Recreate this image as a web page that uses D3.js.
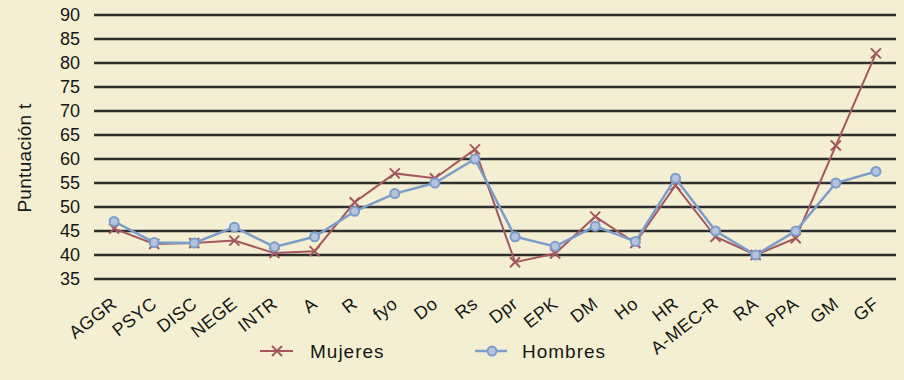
<!DOCTYPE html>
<html lang="es">
<head>
<meta charset="UTF-8">
<title>Puntuación t</title>
<style>
  body { margin: 0; background: #f4efd3; }
  svg { display: block; font-family: "Liberation Sans", Arial, sans-serif; }
</style>
</head>
<body>
<svg id="chart" width="904" height="380"></svg>
<script src="https://cdn.jsdelivr.net/npm/d3@7"></script>
<script>
const categories = ["AGGR", "PSYC", "DISC", "NEGE", "INTR", "A", "R", "fyo", "Do", "Rs",
                    "Dpr", "EPK", "DM", "Ho", "HR", "A-MEC-R", "RA", "PPA", "GM", "GF"];
const mujeres = [45.5, 42.3, 42.5, 43, 40.4, 40.8, 51, 57, 56, 62,
                 38.5, 40.3, 48, 42.5, 54.5, 43.8, 40, 43.5, 62.8, 82];
const hombres = [47, 42.6, 42.5, 45.8, 41.7, 43.8, 49.1, 52.8, 55, 60,
                 43.8, 41.8, 46, 42.8, 56, 45, 40, 45, 55, 57.4];
const yTicks = [35, 40, 45, 50, 55, 60, 65, 70, 75, 80, 85, 90];

const svg = d3.select("#chart");
const plotLeft = 94, plotRight = 896, plotTop = 15, plotBottom = 279;
const ink = "#161616";

const x = d3.scalePoint().domain(categories).range([plotLeft, plotRight]).padding(0.5);
const y = d3.scaleLinear().domain([35, 90]).range([plotBottom, plotTop]);

// grid lines
svg.append("g")
  .selectAll("line")
  .data(yTicks)
  .join("line")
  .attr("x1", plotLeft).attr("x2", plotRight)
  .attr("y1", d => y(d)).attr("y2", d => y(d))
  .attr("stroke", "#2e2e2e")
  .attr("stroke-width", 2.4);

// y tick labels
svg.append("g")
  .selectAll("text")
  .data(yTicks)
  .join("text")
  .attr("x", 80)
  .attr("y", d => y(d))
  .attr("dy", "0.36em")
  .attr("text-anchor", "end")
  .attr("font-size", 18)
  .attr("fill", ink)
  .text(d => d);

// y label
svg.append("text")
  .attr("transform", "translate(31,158) rotate(-90)")
  .attr("text-anchor", "middle")
  .attr("font-size", 19)
  .attr("letter-spacing", 0.3)
  .attr("fill", ink)
  .text("Puntuación t");

// x labels
svg.append("g")
  .selectAll("text")
  .data(categories)
  .join("text")
  .attr("transform", d => `translate(${x(d) + 4},${306}) rotate(-38)`)
  .attr("text-anchor", "end")
  .attr("font-size", 18)
  .attr("letter-spacing", 0.4)
  .attr("fill", ink)
  .text(d => d);

const line = d3.line()
  .x((d, i) => x(categories[i]))
  .y(d => y(d));

const red = "#a4575f", blue = "#7c9dca";

// Mujeres
svg.append("path")
  .datum(mujeres)
  .attr("d", line)
  .attr("fill", "none")
  .attr("stroke", red)
  .attr("stroke-width", 2);

function cross(g, s) {
  g.append("path")
    .attr("d", `M${-s},${-s}L${s},${s}M${-s},${s}L${s},${-s}`)
    .attr("stroke", red)
    .attr("stroke-width", 2)
    .attr("fill", "none");
}

svg.append("g")
  .selectAll("g")
  .data(mujeres)
  .join("g")
  .attr("transform", (d, i) => `translate(${x(categories[i])},${y(d)})`)
  .each(function () { cross(d3.select(this), 5); });

// Hombres
svg.append("path")
  .datum(hombres)
  .attr("d", line)
  .attr("fill", "none")
  .attr("stroke", blue)
  .attr("stroke-width", 2.5);

svg.append("g")
  .selectAll("circle")
  .data(hombres)
  .join("circle")
  .attr("cx", (d, i) => x(categories[i]))
  .attr("cy", d => y(d))
  .attr("r", 4.5)
  .attr("fill", "#b4c4de")
  .attr("stroke", blue)
  .attr("stroke-width", 2);

// legend
const leg = svg.append("g");
leg.append("line").attr("x1", 260).attr("x2", 293).attr("y1", 351).attr("y2", 351)
  .attr("stroke", red).attr("stroke-width", 2);
const lc = leg.append("g").attr("transform", "translate(277,351)");
cross(lc, 5);
leg.append("text").attr("x", 310).attr("y", 358).attr("font-size", 19)
  .attr("letter-spacing", 1).attr("fill", ink).text("Mujeres");

leg.append("line").attr("x1", 475).attr("x2", 507).attr("y1", 351).attr("y2", 351)
  .attr("stroke", blue).attr("stroke-width", 2.5);
leg.append("circle").attr("cx", 492).attr("cy", 351).attr("r", 4.5)
  .attr("fill", "#b4c4de").attr("stroke", blue).attr("stroke-width", 2);
leg.append("text").attr("x", 522).attr("y", 358).attr("font-size", 19)
  .attr("letter-spacing", 1).attr("fill", ink).text("Hombres");
</script>
</body>
</html>
